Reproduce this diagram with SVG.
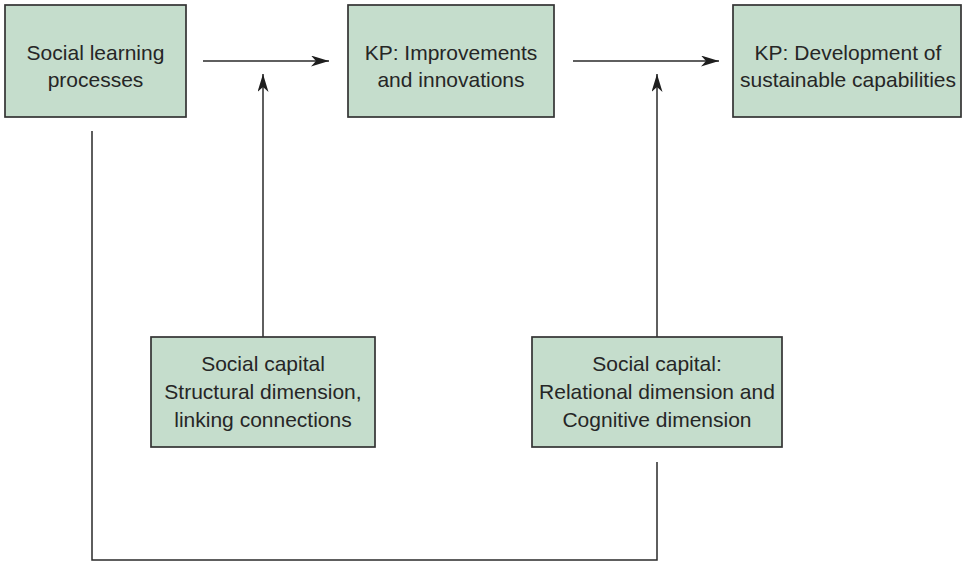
<svg xmlns="http://www.w3.org/2000/svg" width="963" height="562" viewBox="0 0 963 562">
<style>
.box{fill:#c5ddcc;stroke:#333333;stroke-width:1.7}
.t{font-family:"Liberation Sans",Arial,sans-serif;font-size:21px;fill:#262626;text-anchor:middle}
.c{fill:none;stroke:#2a2a2a;stroke-width:1.5}
</style>
<defs>
<marker id="ah" viewBox="0 0 18 11" refX="18" refY="5.5" markerWidth="18" markerHeight="11" markerUnits="userSpaceOnUse" orient="auto">
<path d="M0,0 L18,5.5 L0,11 L5,5.5 Z" fill="#1e1e1e"/>
</marker>
</defs>
<rect width="963" height="562" fill="#ffffff"/>
<g id="connectors">
<line class="c" x1="203" y1="61" x2="329" y2="61" marker-end="url(#ah)"/>
<line class="c" x1="573" y1="61" x2="719" y2="61" marker-end="url(#ah)"/>
<line class="c" x1="263" y1="337" x2="263" y2="74" marker-end="url(#ah)"/>
<line class="c" x1="657" y1="337" x2="657" y2="74" marker-end="url(#ah)"/>
<polyline class="c" points="92,131 92,560 657,560 657,462"/>
</g>
<g id="node-social-learning">
<rect class="box" x="5" y="5" width="181" height="112"/>
<text class="t" x="95.5" y="60">Social learning</text>
<text class="t" x="95.5" y="87">processes</text>
</g>
<g id="node-kp-improvements">
<rect class="box" x="348" y="5" width="206" height="112"/>
<text class="t" x="451" y="60">KP: Improvements</text>
<text class="t" x="451" y="87">and innovations</text>
</g>
<g id="node-kp-development">
<rect class="box" x="733" y="5" width="228" height="112"/>
<text class="t" x="848" y="60">KP: Development of</text>
<text class="t" x="848" y="87">sustainable capabilities</text>
</g>
<g id="node-structural">
<rect class="box" x="151" y="337" width="224" height="110"/>
<text class="t" x="263" y="371">Social capital</text>
<text class="t" x="263" y="399">Structural dimension,</text>
<text class="t" x="263" y="427">linking connections</text>
</g>
<g id="node-relational">
<rect class="box" x="532" y="337" width="250" height="110"/>
<text class="t" x="657" y="371">Social capital:</text>
<text class="t" x="657" y="399">Relational dimension and</text>
<text class="t" x="657" y="427">Cognitive dimension</text>
</g>
</svg>
